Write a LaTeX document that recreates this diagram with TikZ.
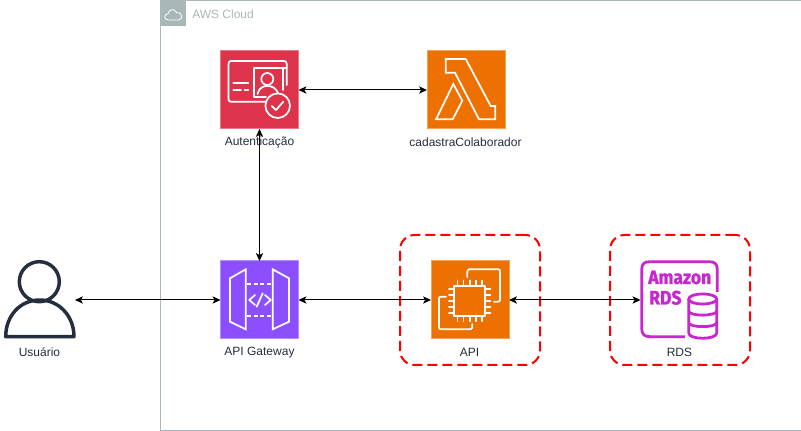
\documentclass[tikz,border=0pt]{standalone}
\usepackage{fontspec}
\setmainfont{Liberation Sans}
\newfontfamily\rdsfont{Fira Sans}[BoldFeatures={FakeBold=1.2}]
\usetikzlibrary{arrows.meta}
\definecolor{awsgray}{HTML}{AAB7B8}
\definecolor{awsink}{HTML}{232F3E}
\definecolor{authred}{HTML}{DD344C}
\definecolor{computeorange}{HTML}{ED7100}
\definecolor{gwpurple}{HTML}{8C4FFF}
\definecolor{rdspink}{HTML}{C925D1}
\tikzset{
  x=0.75pt,y=-0.75pt,
  iconbox/.style={rectangle,minimum width=58.5pt,minimum height=58.5pt,inner sep=0pt,outer sep=0pt},
  tile/.style={iconbox,fill=#1,draw=#1!65!white,line width=0.75pt},
  ghost/.style={rectangle,inner sep=0pt,outer sep=0pt,minimum width=#1,minimum height=58.5pt},
  caption/.style={font=\fontsize{9}{11}\selectfont,text=awsink,inner sep=0pt},
  link/.style={draw=black,line width=0.75pt,{Stealth[length=6pt,width=5.5pt,inset=1.6pt]}-{Stealth[length=6pt,width=5.5pt,inset=1.6pt]}},
  glyph/.style={draw=white,line width=1.3pt,line join=round,line cap=round},
  groupbox/.style={draw=red,line width=1.5pt,dash pattern=on 7.5pt off 3.75pt,rounded corners=11pt},
  rdsline/.style={draw=rdspink,line width=2.1pt,line join=round},
}
\begin{document}
\begin{tikzpicture}
\useasboundingbox (0,0) rectangle (801,431);
\fill[white] (0,0) rectangle (801,431);
% AWS Cloud frame
\draw[awsgray,line width=0.75pt] (160.5,0.5) rectangle (802,430.5);
\fill[awsgray] (160,0) rectangle (186,26);
\draw[white,line width=0.6pt,line join=round] (168.5,20) .. controls (163.5,20) and (163.5,14) .. (168,13.8)
  .. controls (168.5,9.5) and (174.5,7.5) .. (176.5,12.5)
  .. controls (182,11.5) and (184,20) .. (178.5,20) -- cycle;
\node[anchor=west,inner sep=0pt,font=\fontsize{9}{11}\selectfont,text=awsgray] (cloudlabel) at (192,14) {AWS Cloud};
% groups
\node[groupbox,minimum width=105pt,minimum height=97.5pt,inner sep=0pt] (apigroup) at (470,300) {};
\node[groupbox,minimum width=105pt,minimum height=97.5pt,inner sep=0pt] (rdsgroup) at (680,300) {};
% icons
\node[tile=authred] (auth) at (259.5,90) {};
\node[tile=computeorange] (lambda) at (466,90) {};
\node[tile=gwpurple] (gw) at (259.5,300) {};
\node[tile=computeorange] (ec2) at (470,300) {};
\node[ghost=58.5pt] (rds) at (679.5,300) {};
\node[ghost=52.5pt] (user) at (40,300) {};
% auth glyph
\draw[glyph] (265,101.7) -- (231,101.7) .. controls (229,101.7) and (228.5,100.5) .. (228.5,99) -- (228.5,64) .. controls (228.5,62) and (229.5,61) .. (231,61) -- (284,61) .. controls (286,61) and (286.7,62) .. (286.7,64) -- (286.7,85);
\fill[authred] (254.3,64) rectangle (283,100);
\draw[glyph] (266,96.7) -- (254.3,96.7) -- (254.3,67.7) -- (286.7,67.7);
\draw[glyph] (283,67.7) -- (283,90);
\draw[glyph] (267.3,79) circle (6);
\draw[glyph] (257.5,94) .. controls (259,88) and (263,86) .. (267.3,86) .. controls (272,86) and (276,88) .. (278,93);
\draw[glyph] (233.3,83.3) -- (248.3,83.3) (233.3,90) -- (241,90) (244.5,90) -- (248.3,90);
\fill[authred] (277.7,105.7) circle (12.3);
\draw[glyph] (277.7,105.7) circle (12.3);
\draw[glyph] (271.7,106) -- (276,110) -- (283.3,101.7);
% lambda glyph
\draw[glyph,line cap=butt,line join=miter] (445.7,59) -- (465.7,59) -- (490.7,106) -- (495.3,106) -- (495.3,119.3) -- (479,119.3) -- (455,72.7) -- (445.7,72.7) -- cycle;
\draw[glyph,line cap=butt,line join=miter] (453.3,84) -- (462.3,100.7) -- (452.7,119.3) -- (436,119.3) -- cycle;
% API Gateway glyph
\draw[glyph,line join=miter] (245.7,269.3) -- (245.7,329.3) -- (230,321.7) -- (230,278.3) -- cycle;
\draw[glyph,line join=miter] (272.7,269.3) -- (272.7,329.3) -- (289,321.7) -- (289,278.3) -- cycle;
\draw[glyph,line cap=butt,dash pattern=on 3pt off 2pt] (247,284) -- (272,284);
\draw[glyph,line cap=butt,dash pattern=on 3pt off 2pt] (247,315.7) -- (272,315.7);
\draw[glyph] (255,295) -- (249.3,300) -- (255,305);
\draw[glyph] (265,295) -- (270.7,300) -- (265,305);
\draw[glyph] (262.7,293.3) -- (256.7,306.7);
% EC2 glyph
\draw[glyph] (454.3,285.7) rectangle (485,316);
\foreach \p in {457.5,463.5,469.7,475.8,482}{
  \draw[glyph] (\p,285.7) -- (\p,280.5);
  \draw[glyph] (\p,316) -- (\p,321.2);
}
\foreach \p in {289,295,301,307,313}{
  \draw[glyph] (454.3,\p) -- (449,\p);
  \draw[glyph] (485,\p) -- (490.5,\p);
}
\draw[glyph] (467.3,277) -- (467.3,271) .. controls (467.3,270) and (468,269.3) .. (469,269.3) -- (498,269.3) .. controls (499.3,269.3) and (500,270) .. (500,271) -- (500,300) .. controls (500,301) and (499.3,301.7) .. (498,301.7) -- (494,301.7);
\draw[glyph] (446,296.7) -- (441,296.7) .. controls (439.7,296.7) and (439,297.5) .. (439,298.5) -- (439,327.5) .. controls (439,328.7) and (439.7,329.3) .. (441,329.3) -- (470.5,329.3) .. controls (471.7,329.3) and (472.3,328.7) .. (472.3,327.5) -- (472.3,324);
% RDS glyph
\draw[rdsline] (717.3,292) -- (717.3,270) .. controls (717.3,264) and (715,261.7) .. (709,261.7) -- (650,261.7) .. controls (644,261.7) and (641.7,264) .. (641.7,270) -- (641.7,328) .. controls (641.7,334) and (644,336.7) .. (650,336.7) -- (685,336.7);
\node[anchor=base west,inner sep=0pt,text=rdspink,font=\rdsfont\bfseries\fontsize{14.6}{16}\selectfont] (rdsa) at (648,284) {\scalebox{0.9}[1]{Amazon}};
\node[anchor=base west,inner sep=0pt,text=rdspink,font=\rdsfont\bfseries\fontsize{14.6}{16}\selectfont] (rdsb) at (649,304.5) {\scalebox{0.9}[1]{RDS}};
\draw[rdsline] (688.7,299) -- (688.7,333) .. controls (688.7,340) and (716.7,340) .. (716.7,333) -- (716.7,299);
\draw[rdsline] (702.7,294) .. controls (695,294) and (688.7,296) .. (688.7,299) .. controls (688.7,302) and (695,304) .. (702.7,304) .. controls (710.4,304) and (716.7,302) .. (716.7,299) .. controls (716.7,296) and (710.4,294) .. (702.7,294) -- cycle;
\draw[rdsline] (688.7,311) .. controls (688.7,316.5) and (716.7,316.5) .. (716.7,311);
\draw[rdsline] (688.7,322.5) .. controls (688.7,328) and (716.7,328) .. (716.7,322.5);
% user glyph
\draw[awsink,line width=2.6pt] (39.3,281.7) circle (20);
\draw[awsink,line width=2.6pt,line join=round] (5.7,336.7) .. controls (5.7,316) and (20,300) .. (39.7,300) .. controls (59,300) and (74,316) .. (74,336.7) -- cycle;
% captions
\node[caption] (authcap) at (259.5,142.5) {Autenticação};
\node[caption] (lambdacap) at (465.5,142.5) {cadastraColaborador};
\node[caption] (usercap) at (39.5,352.5) {Usuário};
\node[caption] (gwcap) at (259.5,352.5) {API Gateway};
\node[caption] (ec2cap) at (469.5,352.5) {API};
\node[caption] (rdscap) at (679.5,352.5) {RDS};
% connectors
\draw[link] (auth.east) -- (lambda.west);
\draw[link] (auth.south) -- (gw.north);
\draw[link] (user.east -| 75,0) -- (gw.west);
\draw[link] (gw.east) -- (ec2.west);
\draw[link] (ec2.east) -- (rds.west);
\end{tikzpicture}
\end{document}
